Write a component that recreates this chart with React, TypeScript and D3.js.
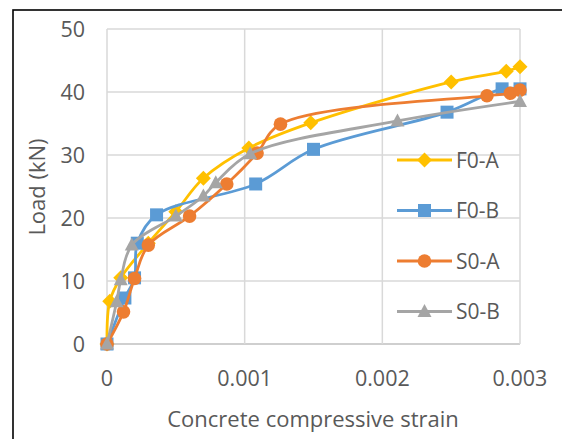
import * as d3 from 'd3'

const xTicks = [0, 0.001, 0.002, 0.003]
const yTicks = [0, 10, 20, 30, 40, 50]

const f0aStrain = [0, 0.00002, 0.0001, 0.0003, 0.0005, 0.0007, 0.00103, 0.00148, 0.0025, 0.0029, 0.003]
const f0aLoad = [0, 6.8, 10.5, 16, 21, 26.3, 31.1, 35.1, 41.6, 43.3, 44]

const f0bStrain = [0, 0.00013, 0.0002, 0.00022, 0.00036, 0.00108, 0.0015, 0.00247, 0.00287, 0.003]
const f0bLoad = [0, 7.3, 10.5, 16, 20.5, 25.4, 30.9, 36.8, 40.5, 40.5]

const s0aStrain = [0, 0.00012, 0.0002, 0.0003, 0.0006, 0.00087, 0.00109, 0.00126, 0.00276, 0.00293, 0.003]
const s0aLoad = [0, 5.1, 10.4, 15.7, 20.3, 25.4, 30.3, 34.9, 39.4, 39.8, 40.3]

const s0bStrain = [0, 0.00007, 0.0001, 0.00018, 0.0005, 0.0007, 0.00079, 0.00104, 0.00211, 0.003]
const s0bLoad = [0, 6.7, 10.2, 15.7, 20.3, 23.5, 25.6, 30.2, 35.4, 38.5]

const seriesNames = ['F0-A', 'F0-B', 'S0-A', 'S0-B']
const seriesColors = ['#FFC000', '#5B9BD5', '#ED7D31', '#A5A5A5']
const seriesMarkers = ['diamond', 'square', 'circle', 'triangle']

const font = "'Open Sans', sans-serif"
const textColor = '#595959'

function Marker({ kind, x, y, color }: { kind: string; x: number; y: number; color: string }) {
  if (kind === 'diamond') {
    const s = 7.5
    return <path d={`M${x},${y - s}L${x + s},${y}L${x},${y + s}L${x - s},${y}Z`} fill={color} />
  }
  if (kind === 'square') {
    return <rect x={x - 6.5} y={y - 6.5} width={13} height={13} fill={color} />
  }
  if (kind === 'circle') {
    return <circle cx={x} cy={y} r={6.8} fill={color} />
  }
  return <path d={`M${x},${y - 7.5}L${x + 7},${y + 5.5}L${x - 7},${y + 5.5}Z`} fill={color} />
}

export default function App() {
  const width = 562
  const height = 439
  const margin = { top: 29, right: 42, bottom: 95, left: 107 }

  const x = d3.scaleLinear().domain([0, 0.003]).range([margin.left, width - margin.right])
  const y = d3.scaleLinear().domain([0, 50]).range([height - margin.bottom, margin.top])

  const series = [
    { strain: f0aStrain, load: f0aLoad },
    { strain: f0bStrain, load: f0bLoad },
    { strain: s0aStrain, load: s0aLoad },
    { strain: s0bStrain, load: s0bLoad },
  ]

  // excel-style smoothed line
  const line = d3.line<[number, number]>()
    .x(d => x(d[0]))
    .y(d => y(d[1]))
    .curve(d3.curveCatmullRom.alpha(0.5))

  const legendX = 397
  const legendY = 160
  const legendStep = 50.5

  return (
    <svg width={width} height={height} style={{ position: 'absolute', left: 0, top: 0, background: '#fff' }}>
      <rect x={13} y={10} width={620} height={520} fill="#fff" stroke="#000" strokeWidth={1.6} />

      {/* grid */}
      {yTicks.map(t => (
        <line key={'gy' + t} x1={x(0)} x2={x(0.003)} y1={y(t)} y2={y(t)}
          stroke={t === 0 ? '#BFBFBF' : '#D9D9D9'} strokeWidth={1.5} />
      ))}
      {xTicks.map(t => (
        <line key={'gx' + t} x1={x(t)} x2={x(t)} y1={y(0)} y2={y(50)} stroke="#D9D9D9" strokeWidth={1.5} />
      ))}

      {/* tick labels */}
      {yTicks.map(t => (
        <text key={'ty' + t} x={85} y={y(t)} dy="0.36em" textAnchor="end"
          fontFamily={font} fontSize={21.5} fill={textColor}>{t}</text>
      ))}
      {xTicks.map(t => (
        <text key={'tx' + t} x={x(t)} y={386} textAnchor="middle"
          fontFamily={font} fontSize={21.5} fill={textColor}>{t === 0 ? '0' : String(t)}</text>
      ))}

      <text x={313} y={427} textAnchor="middle" fontFamily={font} fontSize={22} fill={textColor}>
        Concrete compressive strain
      </text>
      <text transform={`translate(45,187) rotate(-90)`} textAnchor="middle" fontFamily={font} fontSize={22} fill={textColor}>
        Load (kN)
      </text>

      {/* series */}
      {series.map((s, i) => {
        const pts = s.strain.map((v, j) => [v, s.load[j]] as [number, number])
        return (
          <g key={seriesNames[i]}>
            <path d={line(pts) || ''} fill="none" stroke={seriesColors[i]} strokeWidth={2.8} strokeLinejoin="round" />
            {pts.map((p, j) => (
              <Marker key={j} kind={seriesMarkers[i]} x={x(p[0])} y={y(p[1])} color={seriesColors[i]} />
            ))}
          </g>
        )
      })}

      {/* legend */}
      {seriesNames.map((n, i) => {
        const ly = legendY + i * legendStep
        return (
          <g key={'lg' + n}>
            <line x1={legendX} x2={legendX + 55} y1={ly} y2={ly} stroke={seriesColors[i]} strokeWidth={2.8} />
            <Marker kind={seriesMarkers[i]} x={legendX + 27.5} y={ly} color={seriesColors[i]} />
            <text x={legendX + 59} y={ly} dy="0.36em" fontFamily={font} fontSize={21} fill={textColor}>{n}</text>
          </g>
        )
      })}
    </svg>
  )
}
